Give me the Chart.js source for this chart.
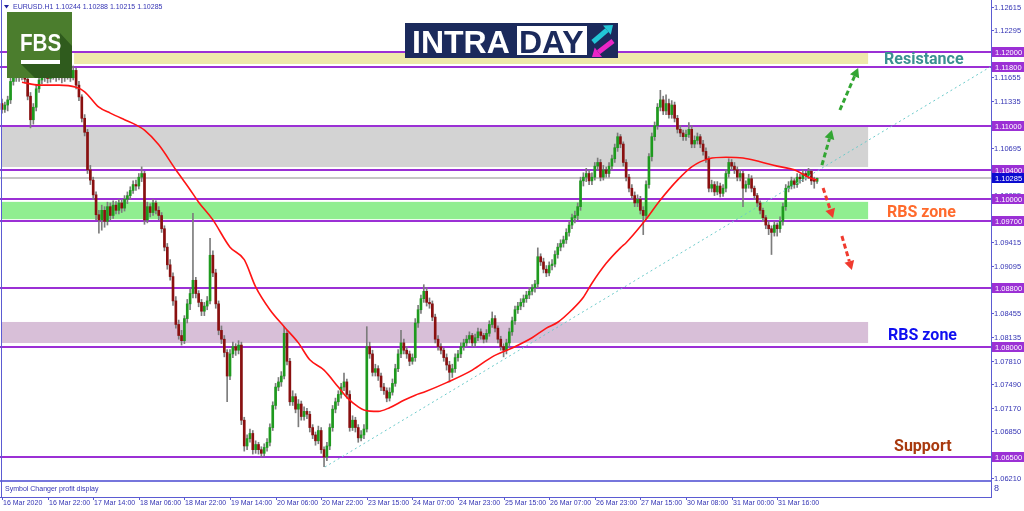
<!DOCTYPE html>
<html>
<head>
<meta charset="utf-8">
<script src="https://cdn.jsdelivr.net/npm/chart.js@4.4.0/dist/chart.umd.min.js"></script>
<style>html,body{margin:0;padding:0;background:#fff}canvas{display:block}</style>
</head>
<body>
<canvas id="c" width="1024" height="511"></canvas>
<script>
// EURUSD H1, 16 Mar - 31 Mar 2020
const symbolTitle = 'EURUSD.H1'
const lastQuote = ['1.10244', '1.10288', '1.10215', '1.10285']

const timeLabels = ['16 Mar 2020', '16 Mar 22:00', '17 Mar 14:00', '18 Mar 06:00', '18 Mar 22:00', '19 Mar 14:00',
  '20 Mar 06:00', '20 Mar 22:00', '23 Mar 15:00', '24 Mar 07:00', '24 Mar 23:00', '25 Mar 15:00',
  '26 Mar 07:00', '26 Mar 23:00', '27 Mar 15:00', '30 Mar 08:00', '31 Mar 00:00', '31 Mar 16:00']
const timeLabelIdx = [0, 16, 32, 48, 64, 80, 96, 112, 128, 144, 160, 176, 192, 208, 224, 240, 256, 272]

const priceTicks = ['1.12615', '1.12295', '1.11975', '1.11655', '1.11335', '1.11015', '1.10695', '1.10375',
  '1.10055', '1.09735', '1.09415', '1.09095', '1.08775', '1.08455', '1.08135', '1.07810', '1.07490',
  '1.07170', '1.06850', '1.06530', '1.06210']

const levels = [1.12, 1.118, 1.11, 1.104, 1.10, 1.097, 1.088, 1.08, 1.065]
const lastPrice = 1.10285

// zones (price bands)
const zoneTop = [1.11986, 1.10982, 1.09965, 1.08334]
const zoneBottom = [1.11837, 1.10438, 1.0973, 1.08048]
const zoneFrom = [25.3, 0, 0, 0]
const zoneTo = [303.9, 303.9, 303.9, 303.9]

// candles: open, high, low, close
const ohlc = [
[1.1130,1.1136,1.1117,1.1122],[1.1122,1.1132,1.1118,1.1128],[1.1128,1.1140,1.1120,1.1135],[1.1135,1.1165,1.1130,1.1160],
[1.1160,1.1170,1.1155,1.1165],[1.1165,1.1175,1.1160,1.1170],[1.1170,1.1174,1.1160,1.1166],[1.1166,1.1178,1.1162,1.1172],
[1.1172,1.1175,1.1158,1.1163],[1.1163,1.1166,1.1135,1.1140],[1.1140,1.1145,1.1097,1.1108],[1.1108,1.1130,1.1102,1.1125],
[1.1125,1.1155,1.1120,1.1150],[1.1150,1.1166,1.1145,1.1162],[1.1162,1.1170,1.1157,1.1166],[1.1166,1.1175,1.1160,1.1170],
[1.1170,1.1173,1.1158,1.1164],[1.1164,1.1172,1.1159,1.1168],[1.1168,1.1177,1.1163,1.1172],[1.1172,1.1175,1.1160,1.1167],
[1.1167,1.1174,1.1162,1.1170],[1.1170,1.1173,1.1158,1.1165],[1.1165,1.1172,1.1160,1.1168],[1.1168,1.1175,1.1163,1.1170],
[1.1170,1.1172,1.1160,1.1165],[1.1165,1.1181,1.1162,1.1175],[1.1175,1.1178,1.1150,1.1155],[1.1155,1.1160,1.1134,1.1139],
[1.1139,1.1142,1.1105,1.1110],[1.1110,1.1115,1.1086,1.1091],[1.1091,1.1095,1.1035,1.1040],[1.1040,1.1046,1.1020,1.1026],
[1.1026,1.1030,1.1000,1.1006],[1.1006,1.1010,1.0972,1.0979],[1.0979,1.0985,1.0954,1.0972],[1.0972,1.0992,1.0958,1.0985],
[1.0985,1.0990,1.0962,1.0970],[1.0970,1.0996,1.0965,1.0990],[1.0990,1.0995,1.0972,1.0978],[1.0978,1.0998,1.0974,1.0992],
[1.0992,1.0997,1.0980,1.0985],[1.0985,1.1000,1.0980,1.0995],[1.0995,1.0999,1.0982,1.0988],[1.0988,1.1005,1.0984,1.1000],
[1.1000,1.1010,1.0994,1.1005],[1.1005,1.1017,1.1000,1.1012],[1.1012,1.1025,1.1008,1.1020],[1.1020,1.1026,1.1012,1.1018],
[1.1018,1.1035,1.1014,1.1030],[1.1030,1.1044,1.1024,1.1035],[1.1035,1.1038,1.0966,1.0972],[1.0972,1.0996,1.0968,1.0990],
[1.0990,1.0994,1.0976,1.0982],[1.0982,1.1000,1.0978,1.0995],[1.0995,1.0998,1.0980,1.0985],[1.0985,1.0990,1.0972,1.0978],
[1.0978,1.0982,1.0955,1.0960],[1.0960,1.0964,1.0930,1.0935],[1.0935,1.0940,1.0905,1.0911],[1.0911,1.0918,1.0890,1.0895],
[1.0895,1.0900,1.0856,1.0862],[1.0862,1.0868,1.0825,1.0830],[1.0830,1.0836,1.0810,1.0815],[1.0815,1.0822,1.0802,1.0808],
[1.0808,1.0842,1.0804,1.0838],[1.0838,1.0864,1.0832,1.0858],[1.0858,1.0878,1.0850,1.0872],[1.0872,1.0981,1.0866,1.0890],
[1.0890,1.0894,1.0866,1.0872],[1.0872,1.0876,1.0854,1.0860],[1.0860,1.0864,1.0842,1.0848],[1.0848,1.0860,1.0842,1.0855],
[1.0855,1.0868,1.0850,1.0862],[1.0862,1.0947,1.0858,1.0924],[1.0924,1.0930,1.0895,1.0900],[1.0900,1.0905,1.0852,1.0858],
[1.0858,1.0862,1.0816,1.0822],[1.0822,1.0828,1.0804,1.0810],[1.0810,1.0815,1.0786,1.0792],[1.0792,1.0796,1.0725,1.0760],
[1.0760,1.0796,1.0755,1.0790],[1.0790,1.0806,1.0785,1.0800],[1.0800,1.0804,1.0788,1.0795],[1.0795,1.0808,1.0790,1.0802],
[1.0802,1.0806,1.0694,1.0700],[1.0700,1.0704,1.0658,1.0665],[1.0665,1.0680,1.0660,1.0675],[1.0675,1.0688,1.0670,1.0682],
[1.0682,1.0686,1.0654,1.0660],[1.0660,1.0672,1.0655,1.0667],[1.0667,1.0670,1.0654,1.0660],[1.0660,1.0664,1.0650,1.0655],
[1.0655,1.0668,1.0651,1.0663],[1.0663,1.0675,1.0658,1.0670],[1.0670,1.0695,1.0665,1.0690],[1.0690,1.0725,1.0686,1.0720],
[1.0720,1.0750,1.0715,1.0745],[1.0745,1.0758,1.0740,1.0752],[1.0752,1.0766,1.0746,1.0760],[1.0760,1.0827,1.0756,1.0818],
[1.0818,1.0822,1.0775,1.0780],[1.0780,1.0784,1.0720,1.0725],[1.0725,1.0740,1.0720,1.0732],[1.0732,1.0736,1.0710,1.0715],
[1.0715,1.0728,1.0691,1.0722],[1.0722,1.0726,1.0700,1.0705],[1.0705,1.0718,1.0700,1.0712],[1.0712,1.0716,1.0702,1.0708],
[1.0708,1.0712,1.0684,1.0690],[1.0690,1.0694,1.0675,1.0680],[1.0680,1.0684,1.0666,1.0672],[1.0672,1.0692,1.0668,1.0686],
[1.0686,1.0690,1.0655,1.0660],[1.0660,1.0664,1.0637,1.0650],[1.0650,1.0670,1.0645,1.0665],[1.0665,1.0695,1.0660,1.0690],
[1.0690,1.0720,1.0685,1.0715],[1.0715,1.0730,1.0710,1.0725],[1.0725,1.0740,1.0720,1.0735],[1.0735,1.0750,1.0730,1.0745],
[1.0745,1.0764,1.0740,1.0752],[1.0752,1.0756,1.0730,1.0735],[1.0735,1.0740,1.0685,1.0690],[1.0690,1.0706,1.0686,1.0700],
[1.0700,1.0704,1.0684,1.0690],[1.0690,1.0694,1.0670,1.0676],[1.0676,1.0686,1.0672,1.0680],[1.0680,1.0694,1.0675,1.0688],
[1.0688,1.0827,1.0684,1.0800],[1.0800,1.0806,1.0784,1.0790],[1.0790,1.0795,1.0760,1.0765],[1.0765,1.0776,1.0760,1.0770],
[1.0770,1.0774,1.0754,1.0760],[1.0760,1.0764,1.0740,1.0745],[1.0745,1.0750,1.0735,1.0740],[1.0740,1.0744,1.0725,1.0730],
[1.0730,1.0744,1.0726,1.0738],[1.0738,1.0756,1.0734,1.0750],[1.0750,1.0776,1.0746,1.0770],[1.0770,1.0796,1.0766,1.0790],
[1.0790,1.0822,1.0785,1.0805],[1.0805,1.0810,1.0790,1.0795],[1.0795,1.0800,1.0784,1.0790],[1.0790,1.0794,1.0774,1.0780],
[1.0780,1.0790,1.0776,1.0785],[1.0785,1.0838,1.0780,1.0832],[1.0832,1.0856,1.0826,1.0850],[1.0850,1.0870,1.0845,1.0865],
[1.0865,1.0884,1.0860,1.0875],[1.0875,1.0880,1.0855,1.0860],[1.0860,1.0866,1.0852,1.0858],[1.0858,1.0862,1.0835,1.0840],
[1.0840,1.0844,1.0805,1.0810],[1.0810,1.0815,1.0795,1.0800],[1.0800,1.0804,1.0790,1.0795],[1.0795,1.0798,1.0780,1.0785],
[1.0785,1.0790,1.0768,1.0775],[1.0775,1.0780,1.0752,1.0765],[1.0765,1.0776,1.0758,1.0770],[1.0770,1.0790,1.0765,1.0785],
[1.0785,1.0795,1.0780,1.0790],[1.0790,1.0805,1.0785,1.0800],[1.0800,1.0810,1.0795,1.0805],[1.0805,1.0815,1.0800,1.0810],
[1.0810,1.0820,1.0805,1.0815],[1.0815,1.0818,1.0800,1.0805],[1.0805,1.0817,1.0800,1.0812],[1.0812,1.0825,1.0808,1.0820],
[1.0820,1.0824,1.0810,1.0815],[1.0815,1.0818,1.0805,1.0810],[1.0810,1.0823,1.0806,1.0818],[1.0818,1.0835,1.0814,1.0830],
[1.0830,1.0847,1.0826,1.0838],[1.0838,1.0842,1.0820,1.0825],[1.0825,1.0828,1.0805,1.0810],[1.0810,1.0814,1.0795,1.0800],
[1.0800,1.0804,1.0786,1.0795],[1.0795,1.0810,1.0790,1.0805],[1.0805,1.0825,1.0800,1.0820],[1.0820,1.0840,1.0815,1.0835],
[1.0835,1.0855,1.0830,1.0850],[1.0850,1.0860,1.0845,1.0855],[1.0855,1.0865,1.0850,1.0860],[1.0860,1.0870,1.0854,1.0865],
[1.0865,1.0875,1.0860,1.0870],[1.0870,1.0880,1.0865,1.0875],[1.0875,1.0884,1.0870,1.0880],[1.0880,1.0890,1.0874,1.0885],
[1.0885,1.0934,1.0880,1.0922],[1.0922,1.0926,1.0910,1.0915],[1.0915,1.0920,1.0900,1.0905],[1.0905,1.0910,1.0895,1.0900],
[1.0900,1.0915,1.0896,1.0910],[1.0910,1.0918,1.0904,1.0912],[1.0912,1.0930,1.0908,1.0925],[1.0925,1.0940,1.0920,1.0935],
[1.0935,1.0945,1.0930,1.0940],[1.0940,1.0950,1.0935,1.0945],[1.0945,1.0960,1.0940,1.0955],[1.0955,1.0970,1.0950,1.0965],
[1.0965,1.0980,1.0960,1.0975],[1.0975,1.0984,1.0968,1.0978],[1.0978,1.0995,1.0972,1.0990],[1.0990,1.1030,1.0985,1.1025],
[1.1025,1.1036,1.1018,1.1030],[1.1030,1.1042,1.1024,1.1035],[1.1035,1.1040,1.1020,1.1025],[1.1025,1.1036,1.1020,1.1030],
[1.1030,1.1050,1.1026,1.1045],[1.1045,1.1056,1.1040,1.1050],[1.1050,1.1054,1.1025,1.1030],[1.1030,1.1046,1.1026,1.1040],
[1.1040,1.1044,1.1030,1.1035],[1.1035,1.1050,1.1030,1.1045],[1.1045,1.1060,1.1040,1.1055],[1.1055,1.1075,1.1050,1.1070],
[1.1070,1.1090,1.1065,1.1085],[1.1085,1.1088,1.1070,1.1075],[1.1075,1.1078,1.1045,1.1050],[1.1050,1.1054,1.1025,1.1030],
[1.1030,1.1034,1.1010,1.1015],[1.1015,1.1020,1.1000,1.1005],[1.1005,1.1010,1.0990,1.0995],[1.0995,1.1006,1.0990,1.1000],
[1.1000,1.1004,1.0980,1.0985],[1.0985,1.0990,1.0952,1.0978],[1.0978,1.1025,1.0974,1.1020],[1.1020,1.1062,1.1015,1.1058],
[1.1058,1.1090,1.1052,1.1085],[1.1085,1.1105,1.1080,1.1100],[1.1100,1.1130,1.1095,1.1125],[1.1125,1.1148,1.1120,1.1135],
[1.1135,1.1140,1.1115,1.1120],[1.1120,1.1142,1.1115,1.1130],[1.1130,1.1136,1.1110,1.1115],[1.1115,1.1134,1.1110,1.1128],
[1.1128,1.1132,1.1105,1.1110],[1.1110,1.1114,1.1090,1.1095],[1.1095,1.1100,1.1085,1.1090],[1.1090,1.1094,1.1080,1.1085],
[1.1085,1.1094,1.1080,1.1088],[1.1088,1.1104,1.1084,1.1095],[1.1095,1.1100,1.1070,1.1075],[1.1075,1.1086,1.1070,1.1080],
[1.1080,1.1090,1.1075,1.1085],[1.1085,1.1088,1.1070,1.1075],[1.1075,1.1080,1.1060,1.1065],[1.1065,1.1070,1.1050,1.1055],
[1.1055,1.1058,1.1010,1.1015],[1.1015,1.1026,1.1010,1.1020],[1.1020,1.1024,1.1005,1.1010],[1.1010,1.1024,1.1006,1.1018],
[1.1018,1.1022,1.1003,1.1008],[1.1008,1.1020,1.1004,1.1015],[1.1015,1.1040,1.1010,1.1035],[1.1035,1.1055,1.1030,1.1050],
[1.1050,1.1054,1.1040,1.1045],[1.1045,1.1050,1.1035,1.1040],[1.1040,1.1044,1.1025,1.1030],[1.1030,1.1040,1.1025,1.1035],
[1.1035,1.1038,1.0990,1.1015],[1.1015,1.1025,1.1010,1.1020],[1.1020,1.1034,1.1015,1.1028],[1.1028,1.1032,1.1010,1.1015],
[1.1015,1.1018,1.1000,1.1005],[1.1005,1.1008,1.0990,1.0995],[1.0995,1.0998,1.0980,1.0985],[1.0985,1.0988,1.0970,1.0975],
[1.0975,1.0978,1.0960,1.0965],[1.0965,1.0970,1.0952,1.0960],[1.0960,1.0964,1.0925,1.0955],[1.0955,1.0970,1.0950,1.0965],
[1.0965,1.0968,1.0950,1.0960],[1.0960,1.0976,1.0955,1.0970],[1.0970,1.0995,1.0965,1.0990],[1.0990,1.1020,1.0985,1.1015],
[1.1015,1.1024,1.1010,1.1018],[1.1018,1.1030,1.1014,1.1025],[1.1025,1.1028,1.1015,1.1020],[1.1020,1.1035,1.1016,1.1030],
[1.1030,1.1034,1.1022,1.1028],[1.1028,1.1040,1.1024,1.1035],[1.1035,1.1038,1.1026,1.1032],[1.1032,1.1042,1.1028,1.1038],
[1.1038,1.1040,1.1020,1.1025],[1.1025,1.1030,1.1015,1.10244],[1.10244,1.10288,1.10215,1.10285]
]

// red moving average, read at sample bars
const maIdx = [7, 13, 20, 26, 29, 34, 38, 43, 47, 50, 55, 61, 66, 69, 74, 80, 85, 89, 94, 99, 104, 108, 113, 118, 121, 125, 127,
  132, 136, 141, 145, 148, 156, 165, 172, 179, 186, 191, 195, 200, 204, 207, 212, 217, 219, 225, 231, 237, 242, 248, 254,
  260, 266, 272, 278, 283, 286]
const maVal = [1.1159, 1.1155, 1.1155, 1.1152, 1.1146, 1.1125, 1.1117, 1.1108, 1.1101, 1.1094, 1.1074, 1.1040, 1.1013, 1.0996,
  1.0972, 1.0935, 1.0918, 1.0881, 1.0850, 1.0827, 1.0805, 1.0782, 1.0768, 1.0745, 1.0731, 1.0718, 1.0714, 1.0712, 1.0717,
  1.0727, 1.0734, 1.0738, 1.0751, 1.0768, 1.0786, 1.0798, 1.0812, 1.0825, 1.0833, 1.0850, 1.0867, 1.0886, 1.0913, 1.0934,
  1.0941, 1.0968, 1.0999, 1.1026, 1.1044, 1.1055, 1.1057, 1.1056, 1.1051, 1.1045, 1.1040, 1.1030, 1.1026]

// dotted trend line
const trendIdx = [113.3, 346.7]
const trendVal = [1.06364, 1.11796]

// dashed scenario arrows
const arrowFromIdx = [287.7, 294.0, 288.1, 294.7]
const arrowFromVal = [1.10465, 1.11212, 1.10153, 1.09501]
const arrowToIdx = [291.2, 300.4, 291.6, 298.2]
const arrowToVal = [1.10941, 1.11783, 1.09746, 1.09040]
const arrowColor = ['#33a633', '#33a633', '#f03a2e', '#f03a2e']

// zone captions
const noteText = ['Resistance', 'RBS zone', 'RBS zone', 'Support']
const noteIdx = [309.5, 310.5, 310.9, 313]
const noteVal = [1.11891, 1.09814, 1.08143, 1.06636]
const noteColor = ['#3b9191', '#ff6a2c', '#0f0ff0', '#a8390e']

const zoneColor = ['#eee8aa', '#d3d3d3', '#90ee90', '#d8bfd8']
const axisCol = '#5b5bd2'
const textCol = '#3434b4'

const decor = {
  id: 'decor',
  beforeDatasetsDraw(c) {
    const ctx = c.ctx, a = c.chartArea, xs = c.scales.x, ys = c.scales.y
    ctx.save()
    zoneTop.forEach((t, k) => {
      const x0 = xs.getPixelForValue(zoneFrom[k]), x1 = xs.getPixelForValue(zoneTo[k])
      const y0 = ys.getPixelForValue(t), y1 = ys.getPixelForValue(zoneBottom[k])
      ctx.fillStyle = zoneColor[k]
      ctx.fillRect(x0, y0, x1 - x0, y1 - y0)
    })
    // current price line
    ctx.fillStyle = '#c6c6c6'
    const yl = Math.round(ys.getPixelForValue(lastPrice))
    ctx.fillRect(a.left, yl - 1, a.right - a.left, 2)
    // horizontal levels
    ctx.fillStyle = '#9b30d5'
    levels.forEach(v => {
      const y = Math.round(ys.getPixelForValue(v))
      ctx.fillRect(a.left, y - 1, a.right - a.left, 2)
    })
    ctx.restore()
  },
  afterDraw(c) {
    const ctx = c.ctx, a = c.chartArea, xs = c.scales.x, ys = c.scales.y
    ctx.save()

    // indicator sub window
    ctx.fillStyle = '#fff'
    ctx.fillRect(a.left, 481, a.right - a.left, a.bottom - 481)
    ctx.fillStyle = '#7676dc'
    ctx.fillRect(a.left, 480, a.right - a.left, 2)
    ctx.fillStyle = axisCol
    ctx.fillRect(1, 0, 1, a.bottom)
    ctx.fillRect(a.right, 0, 1, a.bottom + 1)
    ctx.fillRect(0, a.bottom, a.right + 1, 1)
    ctx.font = '7px "Liberation Sans"'
    ctx.textBaseline = 'middle'
    ctx.fillStyle = textCol
    ctx.fillText('Symbol Changer profit display', 5, 489)
    ctx.font = '9px "Liberation Sans"'
    ctx.fillText('8', a.right + 3, 489)

    // price axis
    ctx.font = '7.5px "Liberation Sans"'
    ctx.textAlign = 'left'
    priceTicks.forEach(t => {
      const y = Math.round(ys.getPixelForValue(parseFloat(t)))
      ctx.fillStyle = axisCol
      ctx.fillRect(a.right, y, 3, 1)
      ctx.fillStyle = textCol
      ctx.fillText(t, a.right + 3, y + 0.5)
    })
    const tag = (v, col) => {
      const y = Math.round(ys.getPixelForValue(v))
      ctx.fillStyle = col
      ctx.fillRect(a.right + 1, y - 5, 32, 10)
      ctx.fillStyle = '#fff'
      ctx.fillText(v.toFixed(5), a.right + 4, y + 0.5)
    }
    levels.forEach(v => tag(v, '#9b30d5'))
    tag(lastPrice, '#0b0bd0')

    // time axis
    ctx.font = '7px "Liberation Sans"'
    ctx.textBaseline = 'top'
    timeLabelIdx.forEach((v, k) => {
      const x = Math.round(xs.getPixelForValue(v))
      ctx.fillStyle = axisCol
      ctx.fillRect(x, a.bottom, 1, 3)
      ctx.fillStyle = textCol
      ctx.fillText(timeLabels[k], x + 1, a.bottom + 3)
    })

    // header
    ctx.fillStyle = '#2222a0'
    ctx.beginPath(); ctx.moveTo(4, 5); ctx.lineTo(9, 5); ctx.lineTo(6.5, 8.5); ctx.closePath(); ctx.fill()
    ctx.fillStyle = textCol
    ctx.font = '7px "Liberation Sans"'
    ctx.textBaseline = 'middle'
    ctx.fillText(symbolTitle + ' ' + lastQuote.join(' '), 13, 7)

    // dashed arrows
    arrowFromIdx.forEach((fx, k) => {
      const x0 = xs.getPixelForValue(fx), y0 = ys.getPixelForValue(arrowFromVal[k])
      const x1 = xs.getPixelForValue(arrowToIdx[k]), y1 = ys.getPixelForValue(arrowToVal[k])
      const ang = Math.atan2(y1 - y0, x1 - x0), hl = 9, hw = 5
      const bx = x1 - hl * Math.cos(ang), by = y1 - hl * Math.sin(ang)
      ctx.strokeStyle = arrowColor[k]; ctx.fillStyle = arrowColor[k]
      ctx.lineWidth = 3; ctx.setLineDash([5, 3])
      ctx.beginPath(); ctx.moveTo(x0, y0); ctx.lineTo(bx, by); ctx.stroke()
      ctx.setLineDash([])
      ctx.beginPath(); ctx.moveTo(x1, y1)
      ctx.lineTo(bx + hw * Math.sin(ang), by - hw * Math.cos(ang))
      ctx.lineTo(bx - hw * Math.sin(ang), by + hw * Math.cos(ang))
      ctx.closePath(); ctx.fill()
    })

    // zone captions
    ctx.font = 'bold 16px Roboto'
    noteText.forEach((t, k) => {
      ctx.fillStyle = noteColor[k]
      ctx.fillText(t, xs.getPixelForValue(noteIdx[k]), ys.getPixelForValue(noteVal[k]))
    })

    // FBS logo
    ctx.fillStyle = '#4b7d2d'
    ctx.fillRect(7, 12, 65, 66)
    ctx.fillStyle = '#2f5b1d'
    ctx.beginPath()
    ctx.moveTo(21, 64); ctx.lineTo(60, 64); ctx.lineTo(60, 33); ctx.lineTo(72, 46)
    ctx.lineTo(72, 78); ctx.lineTo(35, 78); ctx.closePath(); ctx.fill()
    ctx.fillStyle = '#fff'
    ctx.save()
    ctx.translate(20, 51); ctx.scale(0.86, 1)
    ctx.font = 'bold 24px "Liberation Sans"'
    ctx.textBaseline = 'alphabetic'
    ctx.fillText('FBS', 0, 0)
    ctx.restore()
    ctx.fillRect(21, 60, 39, 4)

    // INTRADAY logo
    ctx.fillStyle = '#1b2a5c'
    ctx.fillRect(405, 23, 213, 35)
    ctx.fillStyle = '#fff'
    ctx.fillRect(517, 26, 70, 29)
    ctx.font = 'bold 32px "Liberation Sans"'
    ctx.textBaseline = 'alphabetic'
    ctx.fillText('INTRA', 412, 53)
    ctx.fillStyle = '#1b2a5c'
    ctx.fillText('DAY', 519, 53)
    const iconArrow = (x0, y0, x1, y1, col) => {
      const ang = Math.atan2(y1 - y0, x1 - x0), hl = 8, hw = 6
      const bx = x1 - hl * Math.cos(ang), by = y1 - hl * Math.sin(ang)
      ctx.strokeStyle = col; ctx.fillStyle = col; ctx.lineWidth = 5
      ctx.beginPath(); ctx.moveTo(x0, y0); ctx.lineTo(bx, by); ctx.stroke()
      ctx.beginPath(); ctx.moveTo(x1, y1)
      ctx.lineTo(bx + hw * Math.sin(ang), by - hw * Math.cos(ang))
      ctx.lineTo(bx - hw * Math.sin(ang), by + hw * Math.cos(ang))
      ctx.closePath(); ctx.fill()
    }
    iconArrow(593, 42, 613, 25, '#22c6d6')
    iconArrow(613, 41, 592, 57, '#ea26c6')

    ctx.restore()
  }
}

new Chart(document.getElementById('c'), {
  type: 'bar',
  data: {
    datasets: [
      {
        type: 'line',
        data: maIdx.map((v, k) => ({ x: v, y: maVal[k] })),
        borderColor: '#ff1414',
        borderWidth: 1.6,
        pointRadius: 0,
        cubicInterpolationMode: 'monotone',
        order: 0,
      },
      {
        type: 'line',
        data: trendIdx.map((v, k) => ({ x: v, y: trendVal[k] })),
        borderColor: '#6ccaca',
        borderWidth: 1,
        borderDash: [2, 3],
        pointRadius: 0,
        order: 1,
      },
      {
        data: ohlc.map((d, i) => ({ x: i, y: [d[0], d[3]] })),
        backgroundColor: ohlc.map(d => (d[3] >= d[0] ? '#1e9a1e' : '#8a1010')),
        barThickness: 2,
        minBarLength: 1,
        grouped: false,
        order: 2,
      },
      {
        data: ohlc.map((d, i) => ({ x: i, y: [d[2], d[1]] })),
        backgroundColor: '#7c7c7c',
        barThickness: 1,
        grouped: false,
        order: 3,
      },
    ],
  },
  options: {
    responsive: false,
    animation: false,
    devicePixelRatio: 1,
    events: [],
    layout: { padding: { left: 0, right: 33, top: 0, bottom: 14 } },
    scales: {
      x: { type: 'linear', min: -0.7018, max: 347.02, display: false, offset: false },
      y: { type: 'linear', min: 1.059571, max: 1.127061, display: false },
    },
    plugins: { legend: { display: false }, tooltip: { enabled: false } },
  },
  plugins: [decor],
})
</script>
</body>
</html>
